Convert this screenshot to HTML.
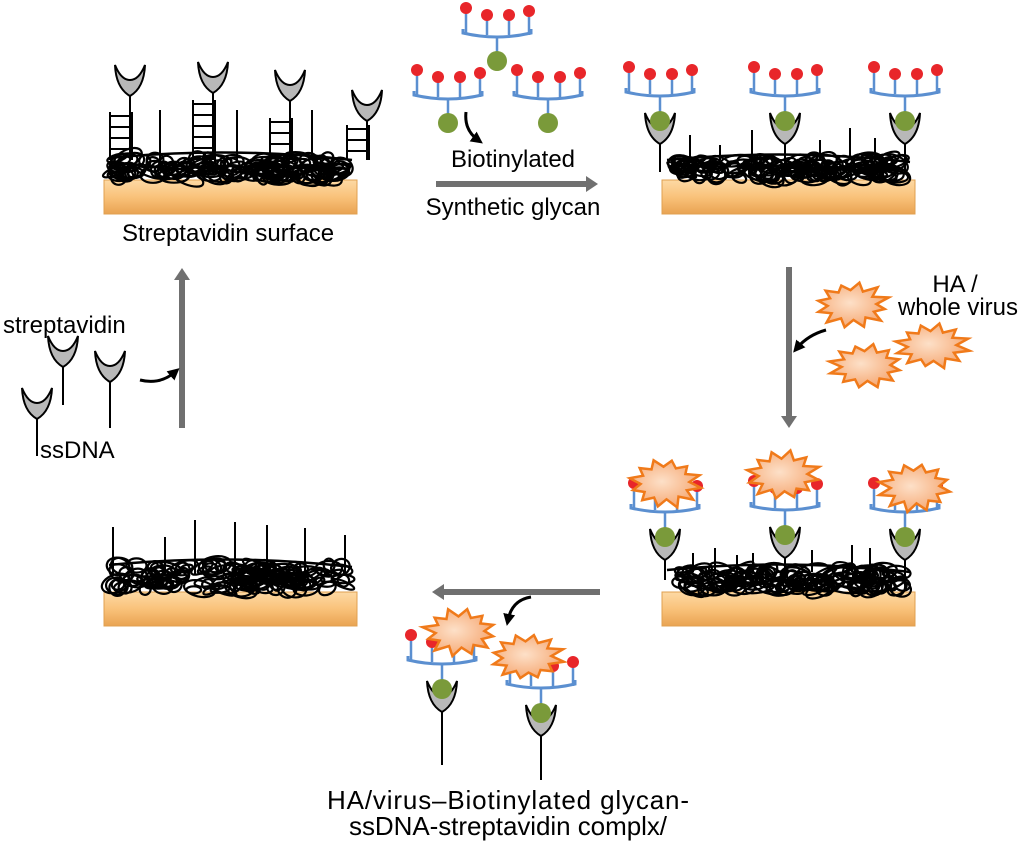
<!DOCTYPE html>
<html><head><meta charset="utf-8">
<style>
html,body{margin:0;padding:0;background:#fff;}
svg{display:block;}
text{font-family:"Liberation Sans",sans-serif;font-size:24px;fill:#000;}
.big{font-size:26px;}
</style></head>
<body>
<svg id="s" width="1024" height="849" viewBox="0 0 1024 849" xmlns="http://www.w3.org/2000/svg">
<defs>
<linearGradient id="og" x1="0" y1="0" x2="0" y2="1">
<stop offset="0" stop-color="#fdd9a4"/><stop offset="0.5" stop-color="#f9c27a"/><stop offset="1" stop-color="#e9a352"/>
</linearGradient>
<radialGradient id="sg" cx="0.45" cy="0.45" r="0.6">
<stop offset="0" stop-color="#fde0c8"/><stop offset="1" stop-color="#f5a56f"/>
</radialGradient>
<marker id="ah" markerWidth="4" markerHeight="4" refX="2" refY="2" orient="auto" markerUnits="strokeWidth">
<path d="M0,0 L4,2 L0,4 Z" fill="#000"/></marker>
</defs>
<g id="g"></g>
<text x="228" y="241" text-anchor="middle">Streptavidin surface</text>
<text x="513" y="167" text-anchor="middle">Biotinylated</text>
<text x="513" y="215" text-anchor="middle">Synthetic glycan</text>
<text x="955" y="292" text-anchor="middle">HA /</text>
<text x="958" y="315" text-anchor="middle">whole virus</text>
<text x="3" y="333">streptavidin</text>
<text x="40" y="458">ssDNA</text>
<text class="big" x="508" y="809" text-anchor="middle" textLength="362">HA/virus–Biotinylated glycan-</text>
<text class="big" x="508" y="835" text-anchor="middle" textLength="318">ssDNA-streptavidin complx/</text>
</svg>
<script>
const g=document.getElementById('g');let h='';
let seed=7;function r(){seed=(seed*16807)%2147483647;return seed/2147483647;}
function slab(x,y){h+=`<rect x="${x}" y="${y}" width="253" height="34" fill="url(#og)" stroke="#e0a050" stroke-width="1"/>`;}
function tangle(x1,x2,yt,yb){
 for(let i=0;i<130;i++){const cx=x1+12+r()*(x2-x1-24),cy=yt+8+r()*(yb-yt-12),rx=5+r()*12,ry=3+r()*6,a=(r()-0.5)*60;
 h+=`<ellipse cx="${cx.toFixed(1)}" cy="${cy.toFixed(1)}" rx="${rx.toFixed(1)}" ry="${ry.toFixed(1)}" transform="rotate(${a.toFixed(0)} ${cx.toFixed(1)} ${cy.toFixed(1)})" fill="none" stroke="#000" stroke-width="2.2"/>`;}
 h+=`<path d="M${x1+5},${yt+8} Q${(x1+x2)/2},${yt-4} ${x2-5},${yt+10}" fill="none" stroke="#000" stroke-width="2.5"/>`;
}
function line(x1,y1,x2,y2,w,c){h+=`<line x1="${x1}" y1="${y1}" x2="${x2}" y2="${y2}" stroke="${c||'#000'}" stroke-width="${w||2}"/>`;}
function cup(x,y){h+=`<path d="M${x-15},${y-15} Q${x-9},${y} ${x},${y} Q${x+9},${y} ${x+15},${y-15} Q${x+14},${y+8} ${x},${y+16} Q${x-14},${y+8} ${x-15},${y-15} Z" fill="#b8b8b8" stroke="#000" stroke-width="2"/>`;}
function ladder(x,y1,y2){line(x,y1,x,y2);line(x+22,y1,x+22,y2);for(let y=y1+4;y<y2;y+=11)line(x,y,x+22,y);}
function glycan(cx,b,green){
 const p=[[-31,-22],[-10,-15],[12,-15],[32,-19]];
 h+=`<path d="M${cx-34},${b-4} L${cx-34},${b} Q${cx},${b+8} ${cx+34},${b} L${cx+34},${b-4}" fill="none" stroke="#5b8fd0" stroke-width="3"/>`;
 p.forEach(([dx,dy])=>{h+=`<line x1="${cx+dx}" y1="${b+2}" x2="${cx+dx}" y2="${b+dy}" stroke="#5b8fd0" stroke-width="2.5"/><circle cx="${cx+dx}" cy="${b+dy-3}" r="6" fill="#e8262a"/>`;});
 h+=`<line x1="${cx}" y1="${b+4}" x2="${cx}" y2="${b+22}" stroke="#5b8fd0" stroke-width="2.5"/>`;
 if(green)h+=`<circle cx="${cx}" cy="${b+28}" r="10" fill="#7a9a3a"/>`;
}
function star(cx,cy,rx,ry){let d='';const n=12;for(let i=0;i<2*n;i++){const a=i*Math.PI/n+0.2;const k=i%2?0.68:1+(r()-0.5)*0.15;d+=(i?'L':'M')+(cx+Math.cos(a)*rx*k).toFixed(1)+','+(cy+Math.sin(a)*ry*k).toFixed(1);}
 h+=`<path d="${d}Z" fill="url(#sg)" stroke="#f07a1a" stroke-width="2.5"/>`;}
function bound(cx,b,stemEnd){
 glycan(cx,b,false);cup(cx,b+36);h+=`<circle cx="${cx}" cy="${b+29}" r="10" fill="#7a9a3a"/>`;line(cx,b+52,cx,stemEnd);}
function garrow(x1,y1,x2,y2){h+=`<line x1="${x1}" y1="${y1}" x2="${x2}" y2="${y2}" stroke="#707070" stroke-width="6"/>`;
 const dx=x2-x1,dy=y2-y1,l=Math.hypot(dx,dy),ux=dx/l,uy=dy/l;
 h+=`<path d="M${x2+ux*12},${y2+uy*12} L${x2-uy*8},${y2+ux*8} L${x2+uy*8},${y2-ux*8} Z" fill="#707070"/>`;}
function curv(d){h+=`<path d="${d}" fill="none" stroke="#000" stroke-width="3" marker-end="url(#ah)"/>`;}

slab(104,180);
[[130,80,110,112],[213,77,193,100],[290,85,270,118],[367,105,347,125]].forEach(([x,y,lx,ly])=>{cup(x,y);line(x,y+16,x,160);ladder(lx,ly,160);});
[160,237,312].forEach(x=>line(x,110,x,160));
tangle(104,357,150,182);

slab(662,180);
[[660,92],[785,92],[905,92]].forEach(([x,b])=>bound(x,b,172));
[690,720,752,820,850,875].forEach((x,i)=>line(x,[135,145,130,140,128,138][i],x,160));
tangle(662,915,152,182);

glycan(497,33,true);glycan(448,95,true);glycan(548,95,true);
garrow(436,184,586,184);
curv("M466,112 Q464,130 478,140");

garrow(789,267,789,416);
star(852,305,36,22);star(866,366,36,22);star(932,346,36,22);
curv("M826,330 Q808,335 797,348");

slab(662,592);
[[665,508],[785,506],[905,508]].forEach(([x,b])=>bound(x,b,580));
[693,715,737,753,812,852,870].forEach((x,i)=>line(x,[553,548,555,553,550,545,548][i],x,572));
tangle(662,915,562,594);
star(665,483,36,24);star(783,475,36,24);star(915,487,36,24);

garrow(600,592,444,592);
curv("M531,597 Q512,600 508,620");

bound(442,660,765);star(460,632,36,23);
bound(541,684,780);star(527,657,36,23);

slab(104,592);
[[113,527],[165,537],[195,520],[235,522],[267,525],[305,528],[345,535]].forEach(([x,y])=>line(x,y,x,575));
tangle(104,357,557,594);

garrow(182,428,182,280);
cup(63,351);line(63,367,63,405);
cup(110,366);line(110,382,110,428);
cup(37,403);line(37,419,37,456);
curv("M140,380 Q160,385 175,372");
g.innerHTML=h;
</script>
</body></html>
